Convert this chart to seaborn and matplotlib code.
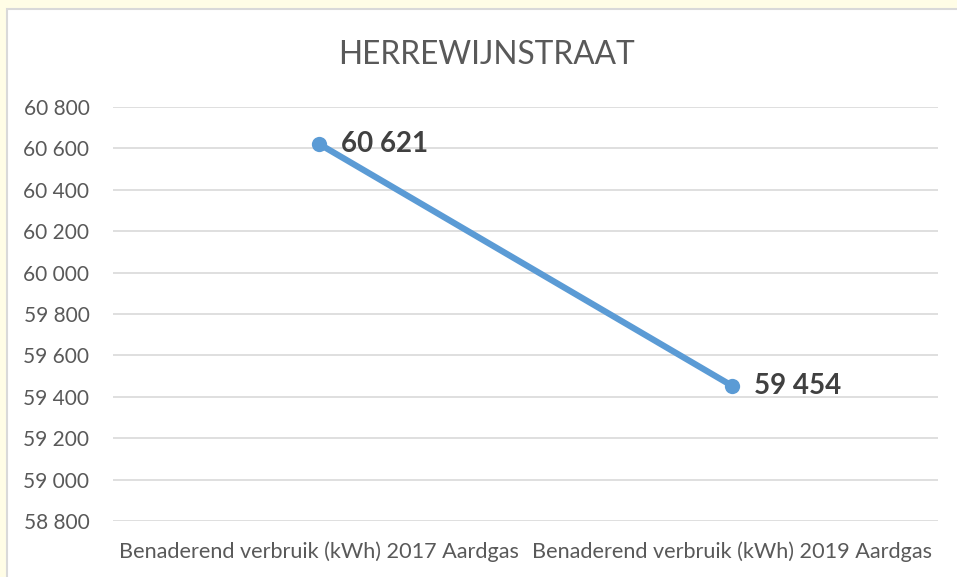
import matplotlib
matplotlib.use("Agg")
import matplotlib.pyplot as plt
import seaborn as sns
import pandas as pd
from matplotlib.ticker import FuncFormatter, MultipleLocator
from matplotlib.patches import Rectangle

categories = ["Benaderend verbruik (kWh) 2017 Aardgas", "Benaderend verbruik (kWh) 2019 Aardgas"]
values = [60621, 59454]
title = "HERREWIJNSTRAAT"

sns.set_theme(style="white")
plt.rcParams['font.family'] = ['Lato', 'DejaVu Sans']

W, H = 957, 577
fig = plt.figure(figsize=(W / 100, H / 100), dpi=100)
fig.patch.set_facecolor('#fffde6')
bg = Rectangle((7 / W, -0.05), 1.1, 1 - 9 / H + 0.05, transform=fig.transFigure,
               facecolor='white', edgecolor='#d9d9d9', linewidth=1.5, zorder=-10)
fig.add_artist(bg)

ax = fig.add_axes([113 / W, 1 - 521 / H, (938 - 113) / W, (521 - 107) / H])
ax.set_facecolor('none')

df = pd.DataFrame({"cat": categories, "val": values})
sns.lineplot(data=df, x="cat", y="val", ax=ax, color='#5B9BD5', linewidth=4.5,
             marker='o', markersize=11, markeredgewidth=0, sort=False, zorder=3)

ax.set_xlim(-0.5, 1.5)
ax.set_ylim(58800, 60800)
ax.yaxis.set_major_locator(MultipleLocator(200))
ax.yaxis.set_major_formatter(FuncFormatter(lambda v, p: f"{int(v):,}".replace(",", " ")))
ax.grid(axis='y', color='#d9d9d9', linewidth=1.2)
ax.grid(axis='x', visible=False)
for s in ax.spines.values():
    s.set_visible(False)
ax.tick_params(axis='y', length=0, labelsize=15, colors='#595959', pad=17)
ax.tick_params(axis='x', length=0, labelsize=15.6, colors='#595959', pad=15)
ax.set_xlabel("")
ax.set_ylabel("")

for i, v in enumerate(values):
    ax.annotate(f"{v:,}".replace(",", " "), (i, v), xytext=(16, 0), textcoords='offset points',
                ha='left', va='center', fontsize=20, fontweight='bold', color='#404040')

fig.text(487 / W, 1 - 55 / H, title, ha='center', va='center', fontsize=22.8,
         color='#595959', fontweight='normal')

fig.savefig("out.png", dpi=100, facecolor=fig.get_facecolor())
